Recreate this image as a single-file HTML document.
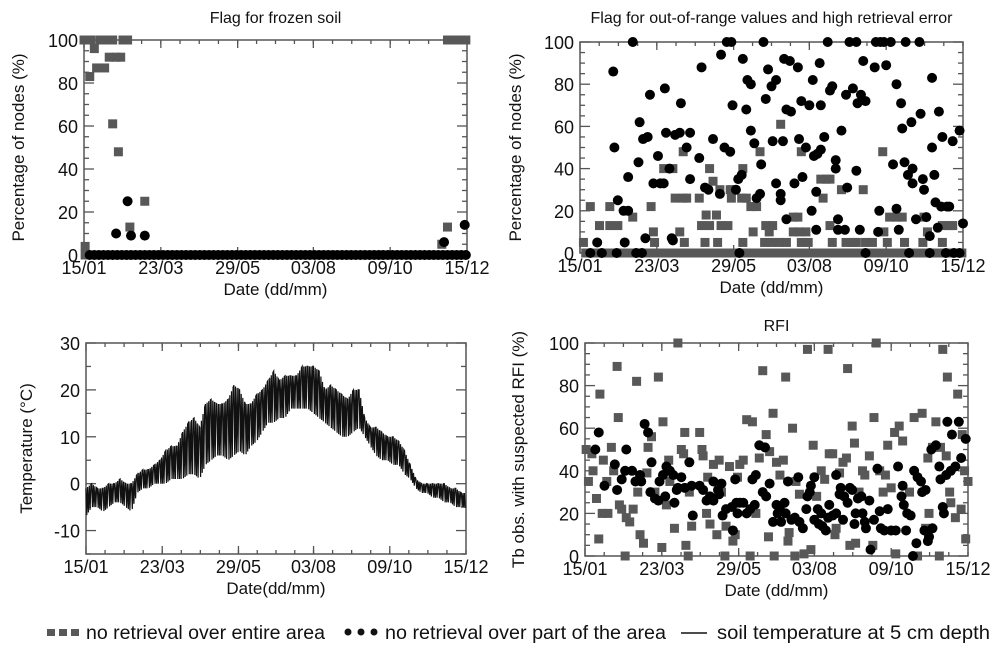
<!DOCTYPE html>
<html><head><meta charset="utf-8"><style>
html,body{margin:0;padding:0;background:#fff;}
svg{display:block;font-family:"Liberation Sans",Arial,sans-serif;}
</style></head><body>
<svg id="fig" width="1000" height="654" viewBox="0 0 1000 654"></svg>
<script>
// ---- shared axis data ----
const xTickDays=[15,82,149,215,282,349];
const xTickLabels=["15/01","23/03","29/05","03/08","09/10","15/12"];
const zeroDays=[20,24,28,32,36,40,44,48,52,56,60,64,68,72,76,80,84,88,92,96,100,104,108,112,116,120,124,128,132,136,140,144,148,152,156,160,164,168,172,176,180,184,188,192,196,200,204,208,212,216,220,224,228,232,236,240,244,248,252,256,260,264,268,272,276,280,284,288,292,296,300,304,308,312,316,320,324,328,332,336,340,344,348];
// ---- panel 1: frozen soil ----
const frozenGrayDays=[16,16,15,21,29,36,40,49,53,24,20,26,33,37,43,47,40,45,55,68,332,337,343,348,332,327];
const frozenGrayVals=[4,0,100,100,100,100,100,100,100,96,83,87,87,92,92,92,61,48,13,25,100,100,100,100,13,5];
const frozenBlackDays=[43,53,56,68,329,347];
const frozenBlackVals=[10,25,9,9,6,14];
// ---- panel 2: out of range ----
const rangeBlackDays=[24,30,34,44,45,48,47,53,54,57,57,61,64,66,67,69,72,70,74,76,79,83,85,88,89,90,93,95,96,98,102,103,108,111,111,119,121,124,127,131,137,138,141,143,146,147,148,151,153,154,156,157,160,161,164,164,167,169,172,173,175,177,179,182,186,183,186,190,190,192,193,195,195,198,199,202,205,206,208,209,212,215,217,218,219,221,221,222,224,225,225,228,231,233,235,238,238,240,240,243,246,247,248,250,253,256,256,257,259,260,262,264,264,272,273,275,276,277,280,282,286,288,291,291,293,295,296,298,299,301,302,304,305,305,308,311,312,314,315,317,320,320,322,322,324,325,327,328,330,331,334,335,337,340,341,346,346,349];
const rangeBlackVals=[0,5,0,86,50,25,0,20,5,20,36,100,0,43,62,0,7,54,55,75,33,46,33,33,78,57,40,7,6,56,57,71,50,35,57,45,88,31,30,54,28,94,50,100,48,100,70,30,35,0,37,92,68,82,80,58,52,26,28,42,100,73,87,79,82,53,33,28,25,53,92,16,68,91,67,33,88,54,72,36,50,70,20,82,46,29,11,47,90,49,70,55,100,77,79,40,44,16,11,58,11,75,31,100,78,39,100,71,11,75,91,72,0,88,100,10,20,100,100,89,100,42,80,21,11,71,59,43,100,37,0,62,40,33,16,100,66,35,30,17,8,0,83,50,37,24,12,67,22,55,0,22,22,53,0,58,0,14];
const rangeGrayDays=[24,18,32,41,41,48,61,77,79,80,88,96,98,102,105,105,108,106,119,121,124,125,128,128,131,134,135,137,138,144,147,146,148,157,156,157,160,164,166,169,172,176,177,180,183,182,189,190,195,201,201,205,206,208,208,212,214,225,227,230,233,233,235,243,247,253,256,262,264,270,279,280,283,285,291,296,298,314,315,318,331,331,337,340];
const rangeGrayVals=[22,5,13,22,13,13,17,22,10,5,40,40,26,10,48,26,26,5,26,13,5,18,40,13,34,18,5,30,13,13,26,30,30,40,26,5,26,22,10,22,48,5,13,10,13,5,5,61,5,10,17,17,10,5,48,10,5,35,26,35,35,13,5,30,5,5,5,30,5,5,48,10,5,17,17,17,5,5,17,10,5,13,13,13];
// ---- panel 3: soil temperature (5-day hi/lo envelope) ----
const tempDays=[15,20,25,30,35,40,45,50,55,60,65,70,75,80,85,90,95,100,105,110,115,120,125,130,135,140,145,150,155,160,165,170,175,180,185,190,195,200,205,210,215,220,225,230,235,240,245,250,255,260,265,270,275,280,285,290,295,300,305,310,315,320,325,330,335,340,345,349];
const tempHi=[-1,0,-1,-1,0,0,1,0,0,2,3,3,4,5,7,8,8,11,13,14,12,17,18,17,17,18,21,20,17,17,19,20,22,24,22,23,23,23,25,25,25,24,20,21,20,19,18,20,20,14,12,12,11,10,10,9,7,4,1,0,0,0,0,0,-1,-1,-2,-2];
const tempLo=[-7,-5,-5,-6,-5,-4,-4,-5,-6,-2,-1,-1,0,0,0,1,1,1,2,2,1,4,5,6,6,5,6,7,6,8,9,11,13,13,14,14,16,16,16,16,15,14,13,12,11,10,10,11,12,10,8,6,5,5,4,4,2,1,-1,-2,-2,-3,-3,-4,-4,-5,-5,-5];
// ---- panel 4: RFI ----
const rfiBlackDays=[24,27,32,41,43,47,51,50,56,59,63,64,67,70,73,72,76,79,80,83,85,86,89,92,93,95,96,99,102,106,108,109,115,118,121,124,127,127,131,132,134,135,138,143,144,146,147,148,150,153,156,159,161,163,164,167,172,170,173,176,179,182,183,185,186,189,190,192,195,198,201,202,205,208,209,211,212,215,215,218,219,221,222,225,227,228,231,234,234,237,238,240,241,244,246,248,250,251,253,256,257,259,260,263,264,267,270,272,273,276,279,282,286,288,291,292,293,295,296,299,301,302,304,305,308,309,311,312,314,315,317,318,321,324,325,327,328,330,331,334,335,338,341,343,347];
const rfiBlackVals=[50,58,33,43,31,36,50,40,40,35,38,35,62,58,44,30,27,26,35,38,28,42,40,38,25,31,32,37,32,44,33,19,33,31,26,28,26,35,31,29,34,19,22,23,12,36,25,20,25,25,20,22,36,24,38,52,51,30,28,34,16,24,20,22,16,25,20,35,17,18,37,16,13,22,28,30,33,37,17,22,15,20,14,12,18,24,19,20,38,29,32,17,28,25,32,31,15,20,27,28,20,16,13,26,3,17,41,21,13,12,22,12,12,42,28,33,24,12,20,19,0,40,6,37,35,30,12,31,7,9,50,13,52,42,36,23,20,38,63,40,57,42,63,46,55];
const rfiGrayDays=[16,18,21,22,25,28,27,30,31,34,35,38,40,43,44,45,47,50,51,54,57,60,61,63,66,69,70,73,76,79,82,83,86,88,89,93,96,99,101,102,103,105,106,108,115,117,118,121,122,124,127,130,132,134,137,138,141,144,146,148,150,153,156,159,161,164,167,170,173,175,176,179,180,182,185,188,190,192,193,196,198,199,202,206,209,212,214,217,221,224,227,228,231,233,234,237,240,243,244,246,248,250,251,254,257,259,263,266,267,269,272,275,277,279,282,285,286,289,292,298,302,305,309,312,314,315,318,321,324,325,327,330,331,333,334,338,340,343,344,346,347,349];
const rfiGrayVals=[50,35,48,40,27,76,8,20,45,35,20,51,40,89,65,24,22,0,18,16,22,82,30,10,6,39,51,56,30,84,4,63,24,45,35,13,100,50,48,58,5,0,30,14,58,50,47,20,37,15,43,10,45,30,0,14,42,7,10,37,43,45,64,0,63,20,46,87,57,9,49,67,0,44,38,45,84,7,11,60,0,35,29,1,97,3,52,28,40,36,97,48,48,10,13,39,44,46,88,5,61,53,6,30,40,38,47,5,65,100,40,30,38,52,32,58,1,61,54,30,65,0,67,13,46,20,51,63,0,51,97,47,84,30,25,18,76,22,57,40,8,35];

const NS="http://www.w3.org/2000/svg";
const svg=document.getElementById('fig');
function el(tag,attrs,parent,txt){const e=document.createElementNS(NS,tag);for(const k in attrs)e.setAttribute(k,attrs[k]);if(txt!==undefined)e.textContent=txt;(parent||svg).appendChild(e);return e;}

function makePanel(name,L,R,T,B,ymin,ymax,yticks,yminorStep,title,ytitle,xtitle,titleY,ytitleX){
  const g=el('g',{},svg);
  
  
  const X=d=>L+(d-15)/(349-15)*(R-L);
  const Y=v=>B-(v-ymin)/(ymax-ymin)*(B-T);
  const ax=el('g',{stroke:'#555','stroke-width':1.3,fill:'none'},g);
  
  
  for(let i=0;i<xTickDays.length-1;i++){
    for(let k=0;k<=4;k++){
      const d=xTickDays[i]+(xTickDays[i+1]-xTickDays[i])*k/4;const x=X(d);const len=k===0?8:4;
      el('line',{x1:x,y1:B,x2:x,y2:B-len},ax);el('line',{x1:x,y1:T,x2:x,y2:T+len},ax);
    }
  }
  for(let v=ymin;v<=ymax+0.001;v+=yminorStep){
    const y=Y(v);const major=yticks.indexOf(v)>=0;const len=major?10:5;
    el('line',{x1:L,y1:y,x2:L+len,y2:y},ax);el('line',{x1:R,y1:y,x2:R-len,y2:y},ax);
  }
  el('rect',{x:L,y:T,width:R-L,height:B-T,stroke:'#555','stroke-width':1.5,fill:'none'},ax);
  const lab=el('g',{'font-size':18,fill:'#111'},g);
  xTickDays.forEach((d,i)=>{const t=el('text',{x:X(d),y:B+19,'text-anchor':'middle'},lab,xTickLabels[i]);
    });
  yticks.forEach(v=>{const t=el('text',{x:L-6,y:Y(v)+7,'text-anchor':'end'},lab,String(v));
    });
  const tt=el('text',{x:(L+R)/2,y:titleY,'text-anchor':'middle','font-size':16,fill:'#111'},g,title);
  
  const xt=el('text',{x:(L+R)/2,y:B+40,'text-anchor':'middle','font-size':17,fill:'#111'},g,xtitle);
  
  const yt=el('text',{x:0,y:0,'text-anchor':'middle','font-size':17,fill:'#111',transform:`translate(${ytitleX},${(T+B)/2}) rotate(-90)`},g,ytitle);
  
  return {g,X,Y};
}
function squares(p,days,vals,name){
  const g=el('g',{fill:'#585858'},p.g);
  
  days.forEach((d,i)=>{const r=el('rect',{x:p.X(d)-4.5,y:p.Y(vals[i])-4.5,width:9,height:9},g);
    });
}
function dots(p,days,vals,name){
  const g=el('g',{fill:'#000'},p.g);
  
  days.forEach((d,i)=>{const c=el('circle',{cx:p.X(d),cy:p.Y(vals[i]),r:5},g);
    });
}
const zeroVals=zeroDays.map(()=>0);

// Panel 1
const p1=makePanel('frozen-soil-panel',84,467,40,255,0,100,[0,20,40,60,80,100],5,'Flag for frozen soil','Percentage of nodes (%)','Date (dd/mm)',23,24);
squares(p1,frozenGrayDays,frozenGrayVals,'frozen-gray-squares');
dots(p1,zeroDays,zeroVals,'frozen-zero-dots');
dots(p1,frozenBlackDays,frozenBlackVals,'frozen-black-dots');

// Panel 2
const p2=makePanel('out-of-range-panel',580,963,42,253,0,100,[0,20,40,60,80,100],5,'Flag for out-of-range values and high retrieval error','Percentage of nodes (%)','Date (dd/mm)',23,521);
squares(p2,zeroDays,zeroVals,'range-zero-squares');
squares(p2,rangeGrayDays,rangeGrayVals,'range-gray-squares');
dots(p2,rangeBlackDays,rangeBlackVals,'range-black-dots');

// Panel 3
const p3=makePanel('soil-temperature-panel',86,466,343,554,-15,30,[-10,0,10,20,30],5,'','Temperature (°C)','Date(dd/mm)',330,32);
(function(){
  let pts=[];
  for(let i=0;i<tempDays.length-1;i++){
    const x0=p3.X(tempDays[i]),x1=p3.X(tempDays[i+1]);
    const n=Math.max(2,Math.round((x1-x0)/0.8));
    for(let k=0;k<n;k++){
      const f=k/n;const hi=tempHi[i]+(tempHi[i+1]-tempHi[i])*f;const lo=tempLo[i]+(tempLo[i+1]-tempLo[i])*f;
      const v=(k%2===0)?hi:lo;
      pts.push((x0+(x1-x0)*f).toFixed(1)+','+p3.Y(v).toFixed(1));
    }
  }
  const n=tempDays.length-1;pts.push(p3.X(tempDays[n]).toFixed(1)+','+p3.Y(tempLo[n]).toFixed(1));
  const pl=el('polyline',{points:pts.join(' '),fill:'none',stroke:'#111','stroke-width':1.2},p3.g);
  
})();

// Panel 4
const p4=makePanel('rfi-panel',585,968,343,556,0,100,[0,20,40,60,80,100],5,'RFI','Tb obs. with suspected RFI (%)','Date (dd/mm)',331,524);
squares(p4,rfiGrayDays,rfiGrayVals,'rfi-gray-squares');
dots(p4,rfiBlackDays,rfiBlackVals,'rfi-black-dots');

// Legend
const lg=el('g',{'font-size':19,fill:'#111'},svg);

const e1=el('g',{},lg);
[47,59,71].forEach(x=>el('rect',{x:x,y:629,width:8,height:7,fill:'#585858'},e1));
const t1=el('text',{x:86,y:639,textLength:239,lengthAdjust:'spacingAndGlyphs'},e1,'no retrieval over entire area');
const e2=el('g',{},lg);
[348,361,374].forEach(x=>el('circle',{cx:x,cy:632,r:3.5},e2));
el('text',{x:385,y:639,textLength:281,lengthAdjust:'spacingAndGlyphs'},e2,'no retrieval over part of the area');
const e3=el('g',{},lg);
el('line',{x1:681,y1:633,x2:707,y2:633,stroke:'#111','stroke-width':1.5},e3);
el('text',{x:717,y:639,textLength:273,lengthAdjust:'spacingAndGlyphs'},e3,'soil temperature at 5 cm depth');
</script>
</body></html>
